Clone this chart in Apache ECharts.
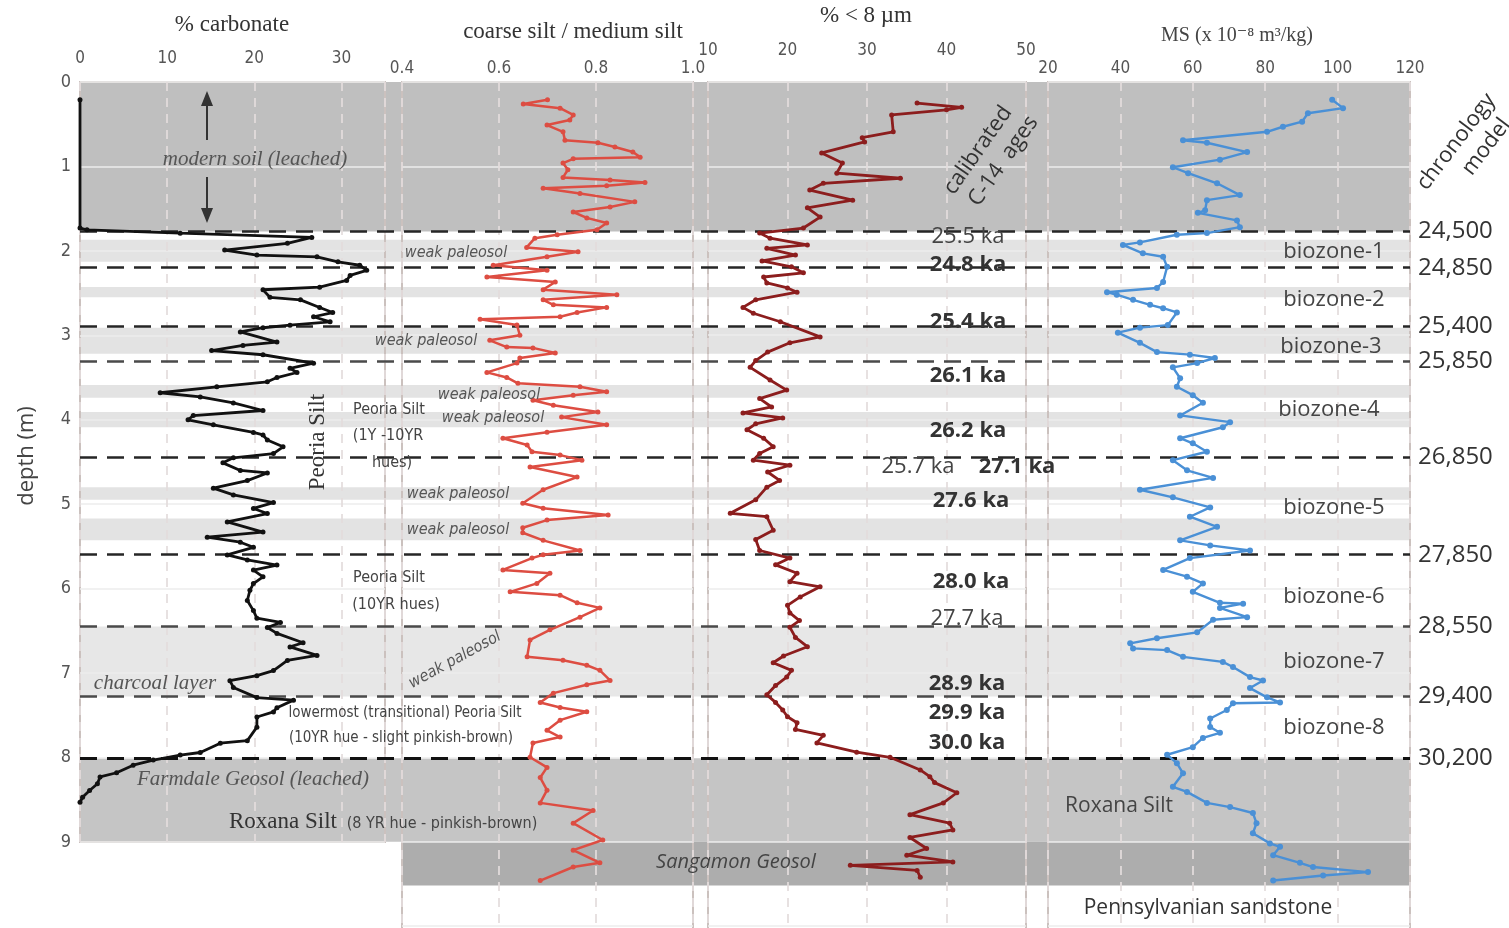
<!DOCTYPE html>
<html><head><meta charset="utf-8">
<script src="https://cdn.jsdelivr.net/npm/echarts/dist/echarts.min.js"></script>
<style>html,body{margin:0;padding:0;background:#fff}#c{width:1509px;height:928px}</style>
</head><body><div id="c"></div>
<script>
// ---- data: [depth (m), value] ----
const carbonate = [[0.21,0],[1.73,0],[1.75,0.8],[1.79,11.5],[1.84,26.6],[1.91,23.8],[1.99,16.6],[2.05,20.3],[2.07,27.2],[2.13,29.6],[2.17,32.1],[2.23,32.9],[2.29,31.0],[2.35,30.6],[2.43,27.5],[2.46,21.0],[2.55,21.8],[2.58,25.3],[2.67,27.5],[2.73,29.0],[2.78,26.8],[2.84,28.7],[2.88,24.1],[2.91,21.0],[2.96,18.4],[3.08,22.6],[3.12,18.7],[3.18,15.1],[3.23,21.0],[3.33,26.8],[3.39,24.1],[3.44,24.9],[3.50,22.6],[3.55,21.5],[3.61,15.7],[3.68,9.2],[3.73,13.8],[3.80,17.6],[3.89,21.0],[3.95,13.0],[4.00,12.4],[4.06,15.3],[4.15,19.9],[4.18,21.0],[4.24,21.5],[4.32,23.3],[4.40,22.2],[4.45,17.6],[4.51,16.4],[4.60,18.4],[4.63,21.5],[4.72,19.2],[4.81,15.3],[4.89,17.6],[4.98,22.2],[5.05,19.9],[5.11,21.5],[5.21,16.9],[5.33,21.0],[5.39,14.6],[5.45,18.4],[5.51,19.9],[5.60,16.9],[5.66,19.2],[5.72,22.6],[5.78,19.9],[5.86,21.0],[5.94,19.9],[6.02,19.5],[6.14,19.2],[6.26,19.9],[6.35,20.3],[6.40,23.0],[6.46,21.5],[6.53,22.6],[6.64,25.6],[6.69,24.1],[6.79,27.2],[6.85,23.8],[6.97,22.2],[7.03,20.3],[7.09,17.2],[7.17,17.6],[7.29,20.3],[7.32,24.5],[7.41,22.6],[7.46,22.2],[7.52,20.3],[7.64,20.3],[7.80,19.2],[7.83,16.1],[7.94,13.8],[7.97,11.5],[8.03,8.4],[8.09,6.1],[8.18,4.2],[8.23,2.3],[8.31,2.0],[8.39,1.1],[8.47,0.3],[8.53,0]];

const siltRatio = [[0.21,0.70],[0.26,0.65],[0.31,0.726],[0.39,0.753],[0.45,0.746],[0.51,0.699],[0.59,0.732],[0.69,0.736],[0.72,0.804],[0.77,0.839],[0.83,0.876],[0.89,0.891],[0.91,0.753],[0.96,0.732],[1.04,0.742],[1.13,0.732],[1.16,0.829],[1.19,0.901],[1.23,0.822],[1.26,0.691],[1.32,0.767],[1.42,0.880],[1.48,0.829],[1.54,0.753],[1.61,0.781],[1.67,0.822],[1.75,0.802],[1.81,0.72],[1.85,0.674],[1.96,0.657],[2.01,0.763],[2.07,0.699],[2.17,0.588],[2.23,0.699],[2.31,0.575],[2.37,0.716],[2.46,0.691],[2.52,0.843],[2.58,0.691],[2.64,0.712],[2.67,0.822],[2.73,0.761],[2.78,0.726],[2.81,0.561],[2.88,0.637],[3.00,0.643],[3.06,0.581],[3.14,0.616],[3.15,0.670],[3.21,0.716],[3.27,0.643],[3.33,0.637],[3.44,0.575],[3.50,0.616],[3.57,0.639],[3.61,0.767],[3.67,0.822],[3.71,0.753],[3.77,0.670],[3.83,0.712],[3.91,0.804],[3.97,0.729],[4.06,0.822],[4.15,0.699],[4.22,0.608],[4.30,0.658],[4.38,0.668],[4.42,0.726],[4.48,0.771],[4.56,0.664],[4.68,0.761],[4.83,0.691],[4.99,0.649],[5.05,0.691],[5.13,0.825],[5.19,0.699],[5.28,0.649],[5.34,0.649],[5.43,0.691],[5.55,0.767],[5.60,0.691],[5.64,0.668],[5.78,0.608],[5.82,0.705],[5.94,0.678],[6.04,0.623],[6.08,0.726],[6.17,0.761],[6.23,0.808],[6.34,0.767],[6.49,0.705],[6.61,0.664],[6.81,0.658],[6.85,0.732],[6.91,0.781],[6.97,0.808],[7.09,0.829],[7.14,0.781],[7.24,0.712],[7.35,0.685],[7.41,0.726],[7.46,0.781],[7.56,0.726],[7.68,0.699],[7.76,0.726],[7.83,0.670],[8.00,0.664],[8.12,0.699],[8.24,0.685],[8.39,0.699],[8.54,0.685],[8.63,0.794],[8.78,0.753],[8.98,0.814],[9.10,0.753],[9.25,0.808],[9.30,0.753],[9.46,0.685]];

const fine8um = [[0.25,36.3],[0.30,41.9],[0.33,40.0],[0.39,33.1],[0.59,33.3],[0.66,29.4],[0.71,29.7],[0.84,24.3],[0.96,26.9],[1.08,26.2],[1.14,34.2],[1.20,24.5],[1.28,22.8],[1.40,28.2],[1.49,22.5],[1.60,24.1],[1.73,22.0],[1.79,16.5],[1.85,17.8],[1.93,22.5],[1.97,17.4],[2.05,21.0],[2.12,16.8],[2.19,20.5],[2.26,22.0],[2.31,17.0],[2.38,17.4],[2.44,20.0],[2.49,21.2],[2.58,16.0],[2.67,14.4],[2.74,15.7],[2.84,19.1],[3.02,24.1],[3.09,20.3],[3.20,17.5],[3.30,16.0],[3.38,15.3],[3.53,17.8],[3.65,19.9],[3.75,16.5],[3.85,18.0],[3.92,14.4],[3.98,19.4],[4.05,16.0],[4.12,14.9],[4.22,17.0],[4.32,18.2],[4.40,16.5],[4.48,15.7],[4.54,20.3],[4.62,17.5],[4.72,19.0],[4.80,17.4],[4.95,16.0],[5.11,12.8],[5.15,17.4],[5.31,18.2],[5.42,16.0],[5.55,16.5],[5.64,20.3],[5.72,18.5],[5.82,21.2],[5.92,20.3],[5.98,24.1],[6.10,21.6],[6.20,20.0],[6.29,20.3],[6.38,21.5],[6.46,20.3],[6.58,21.0],[6.69,22.5],[6.80,19.5],[6.88,18.2],[6.97,20.5],[7.05,19.9],[7.15,18.5],[7.26,17.4],[7.35,18.5],[7.44,19.4],[7.52,20.0],[7.59,21.2],[7.67,21.0],[7.74,24.5],[7.83,23.7],[7.94,28.7],[8.00,32.9],[8.15,36.7],[8.23,37.9],[8.30,38.5],[8.42,41.3],[8.54,39.6],[8.68,35.4],[8.78,40.4],[8.86,40.8],[8.95,35.4],[9.08,37.5],[9.16,35.0],[9.24,40.8],[9.28,27.9],[9.34,36.3],[9.42,36.7]];

const magSusc = [[0.21,98.5],[0.31,101.5],[0.37,91.8],[0.47,90.2],[0.53,84.9],[0.59,80.5],[0.69,57.3],[0.72,63.9],[0.83,75.0],[0.92,67.5],[1.01,54.5],[1.08,58.7],[1.20,66.7],[1.34,73.0],[1.40,63.9],[1.52,63.4],[1.55,61.4],[1.64,72.2],[1.72,73.0],[1.79,63.9],[1.81,55.6],[1.90,45.4],[1.93,40.7],[2.03,46.2],[2.07,51.8],[2.19,52.9],[2.37,51.8],[2.44,50.1],[2.49,36.3],[2.52,39.0],[2.58,43.5],[2.64,48.2],[2.68,51.8],[2.73,55.6],[2.88,53.1],[2.91,45.4],[2.97,39.3],[3.09,45.4],[3.20,50.1],[3.23,59.2],[3.27,66.1],[3.33,61.2],[3.38,54.5],[3.51,56.5],[3.61,55.6],[3.71,60.0],[3.80,62.8],[3.95,56.5],[4.03,70.3],[4.09,68.3],[4.22,56.5],[4.28,60.0],[4.38,63.9],[4.48,54.5],[4.60,58.4],[4.69,65.6],[4.83,45.4],[4.92,54.5],[5.04,64.8],[5.15,59.2],[5.27,66.7],[5.43,56.5],[5.49,64.8],[5.55,75.8],[5.64,59.2],[5.78,51.8],[5.86,58.4],[5.94,62.8],[6.04,60.0],[6.17,67.5],[6.18,73.9],[6.23,67.5],[6.34,75.0],[6.37,65.6],[6.52,61.2],[6.59,50.1],[6.65,42.7],[6.71,43.5],[6.73,52.9],[6.81,57.3],[6.87,68.3],[6.93,71.1],[7.05,75.8],[7.09,79.4],[7.18,75.8],[7.29,80.5],[7.35,84.1],[7.36,71.1],[7.44,69.4],[7.54,64.8],[7.64,64.8],[7.71,67.5],[7.77,62.8],[7.88,60.0],[7.97,52.9],[8.07,55.6],[8.19,57.3],[8.35,54.5],[8.41,58.4],[8.54,63.9],[8.59,70.3],[8.66,76.6],[8.78,77.6],[8.90,76.6],[9.02,81.3],[9.06,84.1],[9.16,82.2],[9.25,89.6],[9.30,93.2],[9.36,108.4],[9.40,96.0],[9.46,82.2]];

// chronology-model boundaries (depth) and their ages
const boundaryDepths = [1.77, 2.20, 2.89, 3.31, 4.45, 5.60, 6.45, 7.28, 8.01];
const boundaryAges = ['24,500','24,850','25,400','25,850','26,850','27,850','28,550','29,400','30,200'];

// stratigraphic units (depth ranges)
const modernSoil = [0, 1.77];
const roxanaSilt = [8.01, 9.0];
const sangamonGeosol = [9.0, 9.52];
const paleosolBand = [6.45, 7.28];
const paleosolStripes = [[1.87,2.13],[2.43,2.55],[2.91,3.22],[3.59,3.74],[3.91,4.09],[4.80,4.95],[5.17,5.43]];

// ---- chart ----
const chart = echarts.init(document.getElementById('c'), null, {renderer: 'canvas'});
const SANS = "'Open Sans', 'Noto Sans', sans-serif";
const NARROW = "'Liberation Sans Narrow', 'DejaVu Sans Condensed', sans-serif";
const SERIF = "'Liberation Serif', 'DejaVu Serif', serif";
const frame = '#cbc1be';

function panelGrid(left, width, height) {
  return {left: left, top: 82, width: width, height: height, show: true,
    borderColor: frame, borderWidth: 2, backgroundColor: 'transparent', z: 3, outerBoundsMode: 'none', containLabel: false};
}
function xAx(gi, min, max, interval, margin, extra) {
  return Object.assign({
    type: 'value', gridIndex: gi, position: 'top', min: min, max: max, interval: interval, z: 3,
    axisLine: {show: false}, axisTick: {show: false},
    axisLabel: {show: true, margin: margin, color: '#555', fontSize: 17, fontFamily: NARROW, showMaxLabel: true, showMinLabel: true},
    splitLine: {show: true, lineStyle: {color: 'rgba(228,220,220,0.95)', width: 1.8, type: [9, 7]}}
  }, extra || {});
}
function yAx(gi, max, showLabel) {
  return {
    type: 'value', gridIndex: gi, inverse: true, min: 0, max: max, interval: 1, z: 3,
    axisLine: {show: false}, axisTick: {show: false},
    axisLabel: {show: showLabel, margin: 9, color: '#555', fontSize: 18, fontFamily: NARROW},
    splitLine: {show: true, lineStyle: {color: '#ececec', width: 1.6}}
  };
}
function curve(idx, data, color, width, sym) {
  return {
    type: 'line', xAxisIndex: idx, yAxisIndex: idx, silent: true, z: 6,
    data: data.map(p => [p[1], p[0]]),
    symbol: 'circle', symbolSize: sym, showSymbol: true,
    lineStyle: {color: color, width: width}, itemStyle: {color: color}
  };
}

const bandAreas = [
  [{yAxis: modernSoil[0], itemStyle: {color: '#bfbfbf'}}, {yAxis: modernSoil[1]}],
  [{yAxis: roxanaSilt[0], itemStyle: {color: '#c5c5c5'}}, {yAxis: roxanaSilt[1]}],
  [{xAxis: 0.242, yAxis: sangamonGeosol[0], itemStyle: {color: '#adadad'}}, {xAxis: 1, yAxis: sangamonGeosol[1]}],
  [{yAxis: paleosolBand[0], itemStyle: {color: '#e7e7e7'}}, {yAxis: paleosolBand[1]}]
].concat(paleosolStripes.map(s => [{yAxis: s[0], itemStyle: {color: '#e3e3e3'}}, {yAxis: s[1]}]));

const lighterLines = {'25,850': true, '28,550': true, '29,400': true};
const boundaryLines = boundaryDepths.map((d, i) => ({
  yAxis: d, label: {formatter: boundaryAges[i]},
  lineStyle: lighterLines[boundaryAges[i]] ? {color: '#4a4a4a'} : (i === boundaryDepths.length - 1 ? {color: '#111', width: 3} : {})
}));

function txt(x, y, text, size, opts) {
  return {type: 'text', x: x, y: y, z: 20, silent: true, rotation: (opts && opts.rot) || 0,
    style: Object.assign({text: text, fontSize: size, fontFamily: SANS, fill: '#444', align: 'center', verticalAlign: 'middle'}, (opts && opts.style) || {})};
}
const ital = (f) => ({style: {fontStyle: 'italic', fontFamily: f || NARROW, fill: '#555'}});
const bold = {style: {fontWeight: 'bold', fill: '#333'}};
const reg = {style: {fill: '#444'}};
const serifT = {style: {fontFamily: SERIF, fill: '#333'}};
const narrowT = {style: {fontFamily: NARROW, fill: '#444'}};

const graphics = [
  txt(232, 25, '% carbonate', 23, serifT),
  txt(573, 32, 'coarse silt / medium silt', 23, serifT),
  txt(866, 16, '% < 8 µm', 23, serifT),
  txt(1237, 36, 'MS (x 10⁻⁸ m³/kg)', 20, {style: {fontFamily: SERIF, fill: '#444'}}),
  txt(27, 456, 'depth (m)', 22, {rot: Math.PI / 2, style: {fontFamily: SANS, fill: '#444'}}),
  txt(1467, 150, 'chronology\n     model', 22, {rot: 0.92, style: {fill: '#333', lineHeight: 27}}),
  txt(989, 158, 'calibrated\n  C-14  ages', 22, {rot: 0.96, style: {fill: '#333', lineHeight: 27}}),
  // panel 1
  txt(255, 159, 'modern soil (leached)', 21, ital(SERIF)),
  {type: 'line', z: 20, silent: true, shape: {x1: 207, y1: 140, x2: 207, y2: 102}, style: {stroke: '#333', lineWidth: 2}},
  {type: 'polygon', z: 20, silent: true, shape: {points: [[207, 91], [201, 106], [213, 106]]}, style: {fill: '#333'}},
  {type: 'line', z: 20, silent: true, shape: {x1: 207, y1: 177, x2: 207, y2: 212}, style: {stroke: '#333', lineWidth: 2}},
  {type: 'polygon', z: 20, silent: true, shape: {points: [[207, 223], [201, 208], [213, 208]]}, style: {fill: '#333'}},
  txt(318, 442, 'Peoria Silt', 23, {rot: Math.PI / 2, style: {fontFamily: SERIF, fill: '#333'}}),
  txt(155, 683, 'charcoal layer', 21, ital(SERIF)),
  txt(253, 779, 'Farmdale Geosol (leached)', 21, ital(SERIF)),
  txt(283, 822, 'Roxana Silt', 23, serifT),
  txt(442, 824, '(8 YR hue - pinkish-brown)', 16, narrowT),
  // panel 2
  txt(456, 253, 'weak paleosol', 16, ital()),
  txt(426, 341, 'weak paleosol', 16, ital()),
  txt(489, 395, 'weak paleosol', 16, ital()),
  txt(493, 418, 'weak paleosol', 16, ital()),
  txt(458, 494, 'weak paleosol', 16, ital()),
  txt(458, 530, 'weak paleosol', 16, ital()),
  txt(455, 660, 'weak paleosol', 16, {rot: 0.5, style: {fontStyle: 'italic', fontFamily: NARROW, fill: '#555'}}),
  txt(389, 410, 'Peoria Silt', 16, narrowT),
  txt(388, 436, '(1Y -10YR', 16, narrowT),
  txt(392, 463, 'hues)', 16, narrowT),
  txt(389, 578, 'Peoria Silt', 16, narrowT),
  txt(396, 605, '(10YR hues)', 16, narrowT),
  txt(405, 713, 'lowermost (transitional) Peoria Silt', 15, narrowT),
  txt(401, 738, '(10YR hue - slight pinkish-brown)', 15, narrowT),
  txt(736, 862, 'Sangamon Geosol', 20, {style: {fontStyle: 'italic', fontFamily: SANS, fill: '#444'}}),
  // panel 3 ages
  txt(968, 237, '25.5 ka', 22, reg),
  txt(968, 265, '24.8 ka', 22, bold),
  txt(968, 322, '25.4 ka', 22, bold),
  txt(968, 376, '26.1 ka', 22, bold),
  txt(968, 431, '26.2 ka', 22, bold),
  txt(918, 467, '25.7 ka', 22, reg),
  txt(1017, 467, '27.1 ka', 22, bold),
  txt(971, 501, '27.6 ka', 22, bold),
  txt(971, 582, '28.0 ka', 22, bold),
  txt(967, 619, '27.7 ka', 22, reg),
  txt(967, 684, '28.9 ka', 22, bold),
  txt(967, 713, '29.9 ka', 22, bold),
  txt(967, 743, '30.0 ka', 22, bold),
  // panel 4
  txt(1334, 252, 'biozone-1', 22, reg),
  txt(1334, 300, 'biozone-2', 22, reg),
  txt(1331, 347, 'biozone-3', 22, reg),
  txt(1329, 410, 'biozone-4', 22, reg),
  txt(1334, 508, 'biozone-5', 22, reg),
  txt(1334, 597, 'biozone-6', 22, reg),
  txt(1334, 662, 'biozone-7', 22, reg),
  txt(1334, 728, 'biozone-8', 22, reg),
  txt(1119, 806, 'Roxana Silt', 21, reg),
  txt(1208, 908, 'Pennsylvanian sandstone', 21, {style: {fill: '#333'}})
];

const option = {
  animation: false,
  backgroundColor: '#ffffff',
  grid: [
    panelGrid(80, 305, 760),
    panelGrid(402, 291, 861),
    panelGrid(708, 318, 861),
    panelGrid(1048, 362, 861),
    {left: 80, top: 82, width: 1330, height: 861, show: false, outerBoundsMode: 'none', containLabel: false}
  ],
  xAxis: [
    xAx(0, 0, 35, 10, 15, {axisLabel: {margin: 15, color: '#555', fontSize: 17, fontFamily: NARROW, showMaxLabel: false}}),
    xAx(1, 0.4, 1.0, 0.2, 5, {axisLabel: {margin: 5, color: '#555', fontSize: 17, fontFamily: NARROW, formatter: v => v.toFixed(1)}}),
    xAx(2, 10, 50, 10, 23),
    xAx(3, 20, 120, 20, 5),
    {type: 'value', gridIndex: 4, min: 0, max: 1, show: false}
  ],
  yAxis: [
    yAx(0, 9, true),
    yAx(1, 10.2, false),
    yAx(2, 10.2, false),
    yAx(3, 10.2, false),
    {type: 'value', gridIndex: 4, inverse: true, min: 0, max: 10.2, show: false}
  ],
  series: [
    {
      type: 'line', xAxisIndex: 4, yAxisIndex: 4, silent: true, z: 1,
      data: [[0, 0]], showSymbol: false, symbol: 'none', lineStyle: {width: 0, opacity: 0},
      markArea: {silent: true, z: 1, label: {show: false}, data: bandAreas},
      markLine: {
        silent: true, z: 5, symbol: ['none', 'none'], animation: false,
        lineStyle: {color: '#262626', width: 2.6, type: [17, 10]},
        label: {show: true, position: 'end', distance: 8, color: '#333', fontSize: 24, fontFamily: SANS},
        emphasis: {disabled: true},
        data: boundaryLines
      }
    },
    curve(0, carbonate, '#111111', 2.8, 5),
    curve(1, siltRatio, '#dd4d42', 2.5, 5),
    curve(2, fine8um, '#8c1d1d', 2.8, 5),
    curve(3, magSusc, '#4a90d6', 2.4, 6)
  ],
  graphic: graphics
};
chart.setOption(option);
</script></body></html>
